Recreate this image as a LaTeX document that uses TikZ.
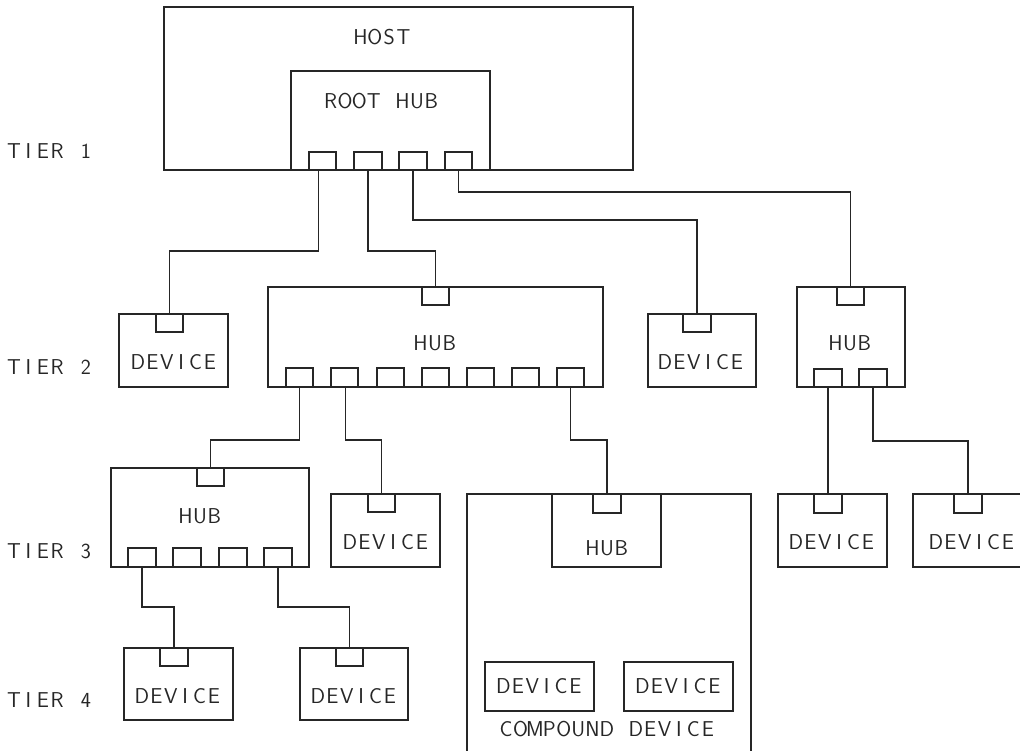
\documentclass[tikz,border=0pt]{standalone}
\usepackage{fontspec}
\def\monotxt#1{\monoi#1\relax}
\def\monoi#1{\ifx#1\relax\else\hbox to 14.4pt{\hss#1\hss}\expandafter\monoi\fi}
\begin{document}
\begin{tikzpicture}[x=1pt,y=-1pt,
  box/.style={draw=black!85, line width=1.1pt, inner sep=0pt, outer sep=0pt},
  wire/.style={draw=black!85, line width=1.1pt},
  lbl/.style={font=\sffamily\fontsize{21.5}{24}\selectfont, inner sep=0pt, text=black!85}]
\useasboundingbox (0,0) rectangle (1020,751);
\clip (0,0) rectangle (1020,751);
\newcommand{\mybox}[5]{\node[box, minimum width={(#4-#2)*1pt}, minimum height={(#5-#3)*1pt}] (#1) at ({(#2+#4)/2},{(#3+#5)/2}) {};}
% tier labels
\node[lbl] (t1) at (50,151) {\monotxt{TIER~1}};
\node[lbl] (t2) at (50,367) {\monotxt{TIER~2}};
\node[lbl] (t3) at (50,551) {\monotxt{TIER~3}};
\node[lbl] (t4) at (50,700) {\monotxt{TIER~4}};
% host and root hub
\mybox{host}{164}{7}{633}{170}
\node[lbl] (hostl) at (382,37) {\monotxt{HOST}};
\mybox{rh}{291}{71}{490}{170}
\node[lbl] (rhl) at (381,101) {\monotxt{ROOT~HUB}};
\mybox{rp1}{309}{152}{336}{170}
\mybox{rp2}{354}{152}{382}{170}
\mybox{rp3}{399}{152}{427}{170}
\mybox{rp4}{445}{152}{472}{170}
% tier 2
\mybox{da}{119}{314}{228}{387}
\mybox{dap}{156}{314}{183}{332}
\node[lbl] (dal) at (174,362) {\monotxt{DEVICE}};
\mybox{mh}{268}{287}{603}{387}
\mybox{mhu}{422}{287}{449}{305}
\node[lbl] (mhl) at (435,343) {\monotxt{HUB}};
\mybox{mp1}{286}{368}{313}{387}
\mybox{mp2}{331}{368}{358}{387}
\mybox{mp3}{377}{368}{404}{387}
\mybox{mp4}{422}{368}{449}{387}
\mybox{mp5}{467}{368}{494}{387}
\mybox{mp6}{512}{368}{539}{387}
\mybox{mp7}{557}{368}{584}{387}
\mybox{db}{648}{314}{756}{387}
\mybox{dbp}{683}{314}{711}{332}
\node[lbl] (dbl) at (701,362) {\monotxt{DEVICE}};
\mybox{rhb}{797}{287}{905}{387}
\mybox{rhu}{837}{287}{864}{305}
\node[lbl] (rhbl) at (850,343) {\monotxt{HUB}};
\mybox{rq1}{814}{369}{842}{387}
\mybox{rq2}{859}{369}{887}{387}
% tier 3
\mybox{h3}{111}{468}{309}{567}
\mybox{h3u}{197}{468}{224}{486}
\node[lbl] (h3l) at (200,516) {\monotxt{HUB}};
\mybox{hp1}{128}{548}{156}{567}
\mybox{hp2}{173}{548}{201}{567}
\mybox{hp3}{219}{548}{247}{567}
\mybox{hp4}{264}{548}{292}{567}
\mybox{dc}{331}{494}{440}{567}
\mybox{dcp}{368}{494}{395}{512}
\node[lbl] (dcl) at (386,542) {\monotxt{DEVICE}};
\mybox{cmp}{467}{494}{751}{770}
\mybox{ch}{552}{494}{661}{567}
\mybox{chp}{593}{494}{621}{513}
\node[lbl] (chl) at (607,548) {\monotxt{HUB}};
\mybox{ci1}{485}{662}{594}{711}
\node[lbl] (ci1l) at (539.5,686) {\monotxt{DEVICE}};
\mybox{ci2}{624}{662}{733}{711}
\node[lbl] (ci2l) at (678.5,686) {\monotxt{DEVICE}};
\node[lbl] (cmpl) at (607,729) {\monotxt{COMPOUND~DEVICE}};
\mybox{dd}{778}{494}{887}{567}
\mybox{ddp}{814}{494}{842}{513}
\node[lbl] (ddl) at (832,542) {\monotxt{DEVICE}};
\mybox{de}{913}{494}{1040}{567}
\mybox{dep}{954}{494}{982}{513}
\node[lbl] (del) at (972,542) {\monotxt{DEVICE}};
% tier 4
\mybox{df}{124}{648}{233}{720}
\mybox{dfp}{160}{648}{188}{666}
\node[lbl] (dfl) at (178,696) {\monotxt{DEVICE}};
\mybox{dg}{300}{648}{408}{720}
\mybox{dgp}{336}{648}{363}{666}
\node[lbl] (dgl) at (354,696) {\monotxt{DEVICE}};
% junction levels
\coordinate (y251) at (0,251);
\coordinate (y220) at (0,220);
\coordinate (y192) at (0,192);
\coordinate (y440) at (0,440);
\coordinate (y441) at (0,441);
\coordinate (y607) at (0,607);
% connectors
\draw[wire] ([xshift=-4pt]rp1.south) |- (y251 -| dap.north) -- (dap.north);
\draw[wire] (rp2.south) |- (y251 -| mhu.north) -- (mhu.north);
\draw[wire] (rp3.south) |- (y220 -| dbp.north) -- (dbp.north);
\draw[wire] (rp4.south) |- (y192 -| rhu.north) -- (rhu.north);
\draw[wire] (mp1.south) |- (y440 -| h3u.north) -- (h3u.north);
\draw[wire] ([xshift=1pt]mp2.south) |- (y440 -| dcp.north) -- (dcp.north);
\draw[wire] (mp7.south) |- (y440 -| chp.north) -- (chp.north);
\draw[wire] (rq1.south) -- (ddp.north);
\draw[wire] (rq2.south) |- (y441 -| dep.north) -- (dep.north);
\draw[wire] (hp1.south) |- (y607 -| dfp.north) -- (dfp.north);
\draw[wire] (hp4.south) |- (y607 -| dgp.north) -- (dgp.north);
\end{tikzpicture}
\end{document}
